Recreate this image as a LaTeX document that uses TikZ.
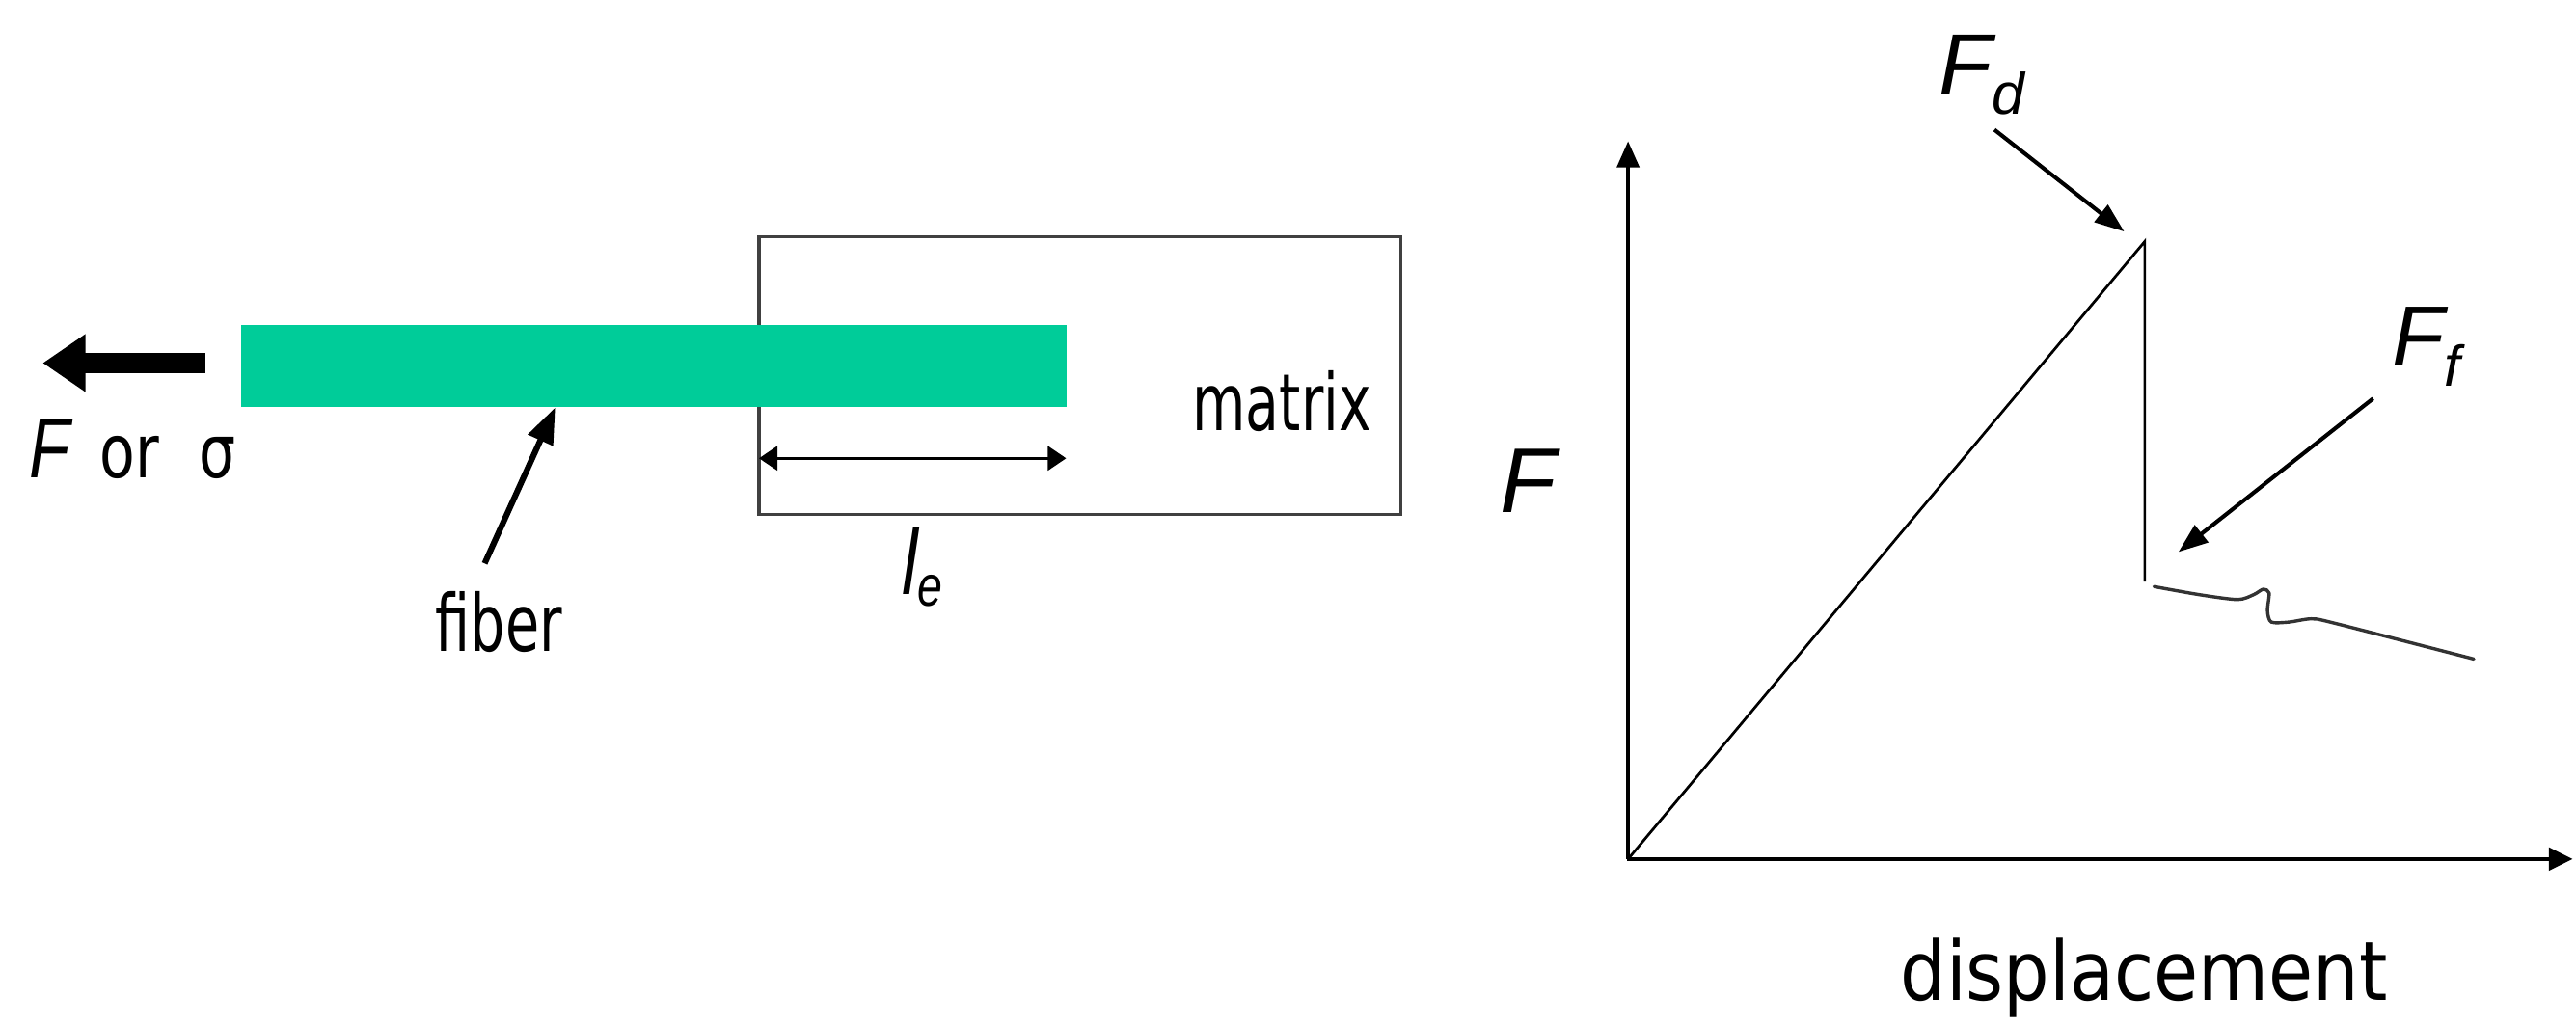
\documentclass[tikz,border=0pt]{standalone}
\usepackage{fontspec}
\usepackage{graphicx}
\usetikzlibrary{arrows.meta}
\newfontfamily\dvs{DejaVu Sans}
\newfontfamily\lsn{Liberation Sans}
\definecolor{fibergreen}{RGB}{0,204,153}
\newcommand\fsz[1]{\fontsize{#1}{#1}\selectfont}
\begin{document}
\begin{tikzpicture}[x=0.5pt,y=-0.5pt,
  lbl/.style={inner sep=0pt, outer sep=0pt, text=black},
  boxline/.style={line width=0.9pt, draw=black!75},
  plotline/.style={line width=0.8pt, draw=black},
  wiggle/.style={line width=1pt, draw=black!80, line join=round, line cap=round},
  pointer/.style={line width=1.2pt, -{Triangle[length=9pt,width=6.5pt]}},
  dimarrow/.style={line width=1pt, {Triangle[length=5.6pt,width=7.3pt]}-{Triangle[length=5.6pt,width=7.3pt]}}
]
\useasboundingbox (0,0) rectangle (1568,624.6);

% matrix box and fiber
\coordinate (mtl) at (462,144);
\coordinate (mbr) at (852.5,313);
\draw[boxline] (mtl) rectangle (mbr);
\coordinate (ftl) at (147,197.7);
\coordinate (fbr) at (649,247.6);
\fill[fibergreen] (ftl) rectangle (fbr);

% pulling force arrow
\coordinate (ptail) at (125,221);
\coordinate (ptip) at (26,221);
\draw[line width=6.4pt, -{Triangle[length=13pt,width=16.7pt]}] (ptail) -- (ptip);
\node[lbl, anchor=base west] (forsig) at (18,291)
  {\scalebox{0.78}[1]{\lsn\itshape\fsz{26pt}F\upshape\dvs\fsz{22.6pt}\hspace{11.6pt}or\hspace{15.6pt}σ}};

% fiber label
\node[lbl, anchor=base] (fibertxt) at (303.7,396.3) {\scalebox{0.70}[1]{\dvs\fsz{24pt}fiber}};
\coordinate (fa0) at (295,343);
\coordinate (fa1) at (338,248);
\draw[line width=1.8pt, -{Triangle[length=11pt,width=8pt]}] (fa0) -- (fa1);

% embedded length
\coordinate (le0) at (462,279);
\coordinate (le1) at (649,279);
\draw[dimarrow] (le0) -- (le1);
\node[lbl, anchor=base west] (letxt) at (549,362)
  {\scalebox{0.78}[1]{\lsn\itshape\fsz{28pt}l\raisebox{-3.5pt}{\fsz{17.5pt}e}}};

% matrix label
\node[lbl, anchor=base] (matrixtxt) at (780.3,262.2) {\scalebox{0.695}[1]{\dvs\fsz{24pt}matrix}};

% plot
\coordinate (O) at (991,523);
\coordinate (ytip) at (991,86);
\coordinate (xstart) at (990.3,523);
\coordinate (xtip) at (1566,523);
\draw[line width=1pt, -{Triangle[length=8pt,width=6.8pt]}] (O) -- (ytip);
\draw[line width=1.4pt, -{Triangle[length=7.3pt,width=6.8pt]}] (xstart) -- (xtip);
\coordinate (P) at (1305.5,147);
\coordinate (D) at (1305.5,354);
\draw[plotline, line join=miter] (O) -- (P) -- (D);
\draw[wiggle] plot[smooth, tension=0.45] coordinates {
  (1311.1,357.1) (1338.5,362) (1362,365) (1371.8,362) (1377.6,358.7)
  (1381.2,361) (1380.2,371.8) (1382.5,378.7) (1393.3,378.7) (1407,376.7)
  (1420.7,379.3) (1505.8,401.2)};

\node[lbl, anchor=base west] (Faxis) at (913,312) {\lsn\itshape\fsz{28pt}F};
\node[lbl, anchor=base] (disp) at (1305,609) {\scalebox{0.88}[1]{\dvs\fsz{25pt}displacement}};

\node[lbl, anchor=base west] (Fd) at (1180,57.7)
  {\lsn\itshape\fsz{26.5pt}F\raisebox{-6pt}{\fsz{17.8pt}d}};
\coordinate (fd0) at (1214,79);
\coordinate (fd1) at (1293,141);
\draw[pointer] (fd0) -- (fd1);

\node[lbl, anchor=base west] (Ff) at (1456,223)
  {\lsn\itshape\fsz{26pt}F\raisebox{-6pt}{\fsz{17.5pt}f}};
\coordinate (ff0) at (1444.5,242.6);
\coordinate (ff1) at (1326,336);
\draw[pointer] (ff0) -- (ff1);
\end{tikzpicture}
\end{document}
